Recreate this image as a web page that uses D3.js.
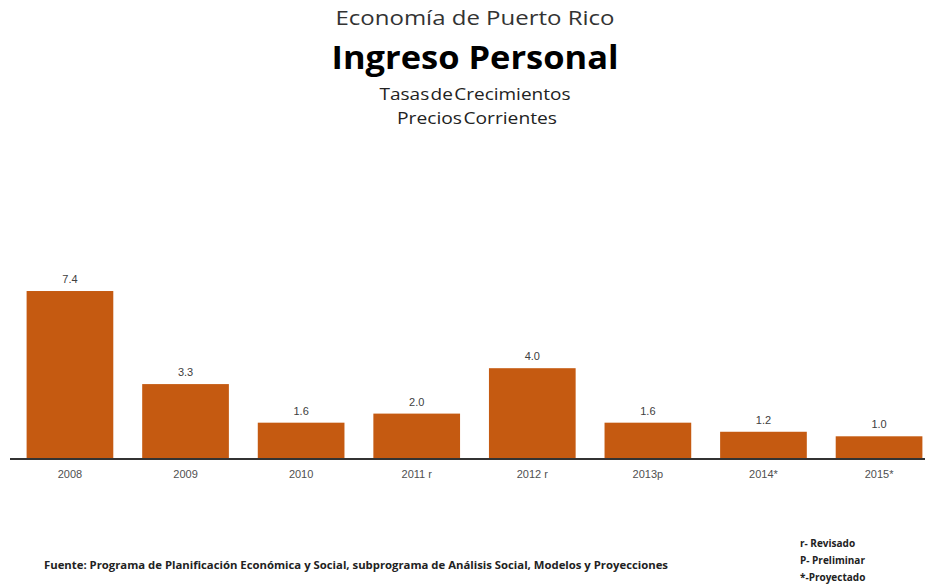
<!DOCTYPE html>
<html>
<head>
<meta charset="utf-8">
<script src="https://cdn.jsdelivr.net/npm/d3@7"></script>
<style>
  body { margin: 0; background: #fff; }
  svg { display: block; }
</style>
</head>
<body>
<div id="chart"></div>
<script>
// datos
var years = ['2008', '2009', '2010', '2011 r', '2012 r', '2013p', '2014*', '2015*'];
var growth = [7.4, 3.3, 1.6, 2.0, 4.0, 1.6, 1.2, 1.0];
var titles = ['Economía de Puerto  Rico', 'Ingreso Personal', 'Tasas de Crecimientos', 'Precios Corrientes'];
var notes = ['r- Revisado', 'P- Preliminar', '*-Proyectado'];
var source = 'Fuente: Programa de Planificación Económica  y Social, subprograma de Análisis Social, Modelos y Proyecciones';

var width = 925, height = 585;
var base = 459;

var svg = d3.select('#chart')
  .append('svg')
  .attr('width', width)
  .attr('height', height);

var x = d3.scaleBand()
  .domain(years)
  .range([11, 938])
  .paddingInner(0.25)
  .paddingOuter(0.135);

var y = d3.scaleLinear()
  .domain([0, 8])
  .range([base, base - 8 * 22.7]);

// titulos
var titleFont = "'Open Sans', 'Noto Sans', sans-serif";
svg.append('text')
  .attr('x', 475).attr('y', 25)
  .attr('text-anchor', 'middle')
  .attr('textLength', 279).attr('lengthAdjust', 'spacingAndGlyphs')
  .style('font-family', titleFont).style('font-size', '20px').style('fill', '#333')
  .text(titles[0]);
svg.append('text')
  .attr('x', 475).attr('y', 69)
  .attr('text-anchor', 'middle')
  .attr('textLength', 287).attr('lengthAdjust', 'spacingAndGlyphs')
  .style('font-family', titleFont).style('font-size', '33px').style('font-weight', 'bold').style('fill', '#000')
  .text(titles[1]);
svg.append('text')
  .attr('x', 475).attr('y', 100)
  .attr('text-anchor', 'middle')
  .attr('textLength', 191).attr('lengthAdjust', 'spacingAndGlyphs')
  .style('font-family', titleFont).style('font-size', '16px').style('fill', '#222')
  .style('word-spacing', '-3px')
  .text(titles[2]);
svg.append('text')
  .attr('x', 477).attr('y', 124)
  .attr('text-anchor', 'middle')
  .attr('textLength', 160).attr('lengthAdjust', 'spacingAndGlyphs')
  .style('font-family', titleFont).style('font-size', '16px').style('fill', '#222')
  .style('word-spacing', '-3px')
  .text(titles[3]);

// barras
svg.selectAll('.bar')
  .data(growth)
  .enter()
  .append('rect')
  .attr('class', 'bar')
  .attr('x', function(d, i) { return x(years[i]); })
  .attr('y', function(d) { return y(d); })
  .attr('width', x.bandwidth())
  .attr('height', function(d) { return y(0) - y(d); })
  .style('fill', '#C55A11');

svg.selectAll('.val')
  .data(growth)
  .enter()
  .append('text')
  .attr('class', 'val')
  .attr('x', function(d, i) { return x(years[i]) + x.bandwidth() / 2; })
  .attr('y', function(d) { return y(d) - 8; })
  .attr('text-anchor', 'middle')
  .style('font-family', 'Arial, Liberation Sans, sans-serif')
  .style('font-size', '11px')
  .style('fill', '#404040')
  .text(function(d) { return d.toFixed(1); });

// eje
var axis = svg.append('g')
  .attr('transform', 'translate(0,' + base + ')')
  .call(d3.axisBottom(x).tickSize(0).tickPadding(11));
axis.select('.domain')
  .attr('d', 'M10,0H925')
  .style('stroke', '#333')
  .style('stroke-width', 2);
axis.selectAll('text')
  .style('font-family', 'Arial, Liberation Sans, sans-serif')
  .style('font-size', '11px')
  .style('fill', '#505050');

// notas
svg.append('text')
  .attr('x', 44).attr('y', 569)
  .attr('textLength', 624).attr('lengthAdjust', 'spacingAndGlyphs')
  .style('font-family', titleFont).style('font-size', '10px').style('font-weight', 'bold').style('fill', '#222')
  .text(source);

svg.selectAll('.note')
  .data(notes)
  .enter()
  .append('text')
  .attr('class', 'note')
  .attr('x', 800)
  .attr('y', function(d, i) { return 547 + i * 17; })
  .style('font-family', titleFont).style('font-size', '10px').style('font-weight', 'bold').style('fill', '#222')
  .text(function(d) { return d; });
</script>
</body>
</html>
